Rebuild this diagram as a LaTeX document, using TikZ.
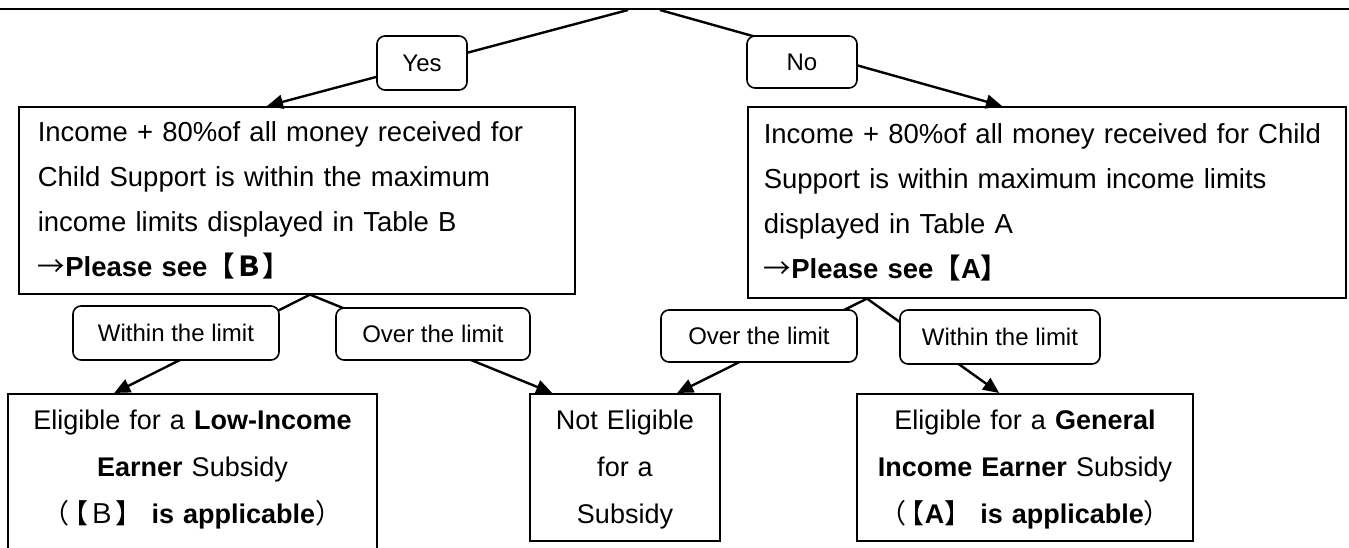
\documentclass[tikz,border=0pt]{standalone}
\usepackage{fontspec}
\setmainfont{Liberation Sans}
\newfontfamily\cjk{Noto Sans CJK JP}
\usetikzlibrary{arrows.meta,calc,positioning}

\begin{document}
\begin{tikzpicture}[x=1pt, y=-1pt,
    box/.style={draw, line width=1.6pt, rectangle, anchor=north west},
    bigtxt/.style={font=\fontsize{27.5}{45}\selectfont, align=left},
    smalltxt/.style={font=\fontsize{27}{47}\selectfont, align=center, anchor=north, inner xsep=10pt, inner ysep=3pt},
    tag/.style={draw, fill=white, line width=1.6pt, rounded corners=8pt, inner sep=0pt, font=\fontsize{24}{24}\selectfont},
    link/.style={line width=2.4pt, -{Triangle[length=16pt,width=14pt]}},
    stem/.style={line width=2.4pt}]
\useasboundingbox (0,0) rectangle (1349,548);

\node[box, anchor=south, minimum width=1440pt, minimum height=80pt] (quest) at (644,10) {};
\node[box, bigtxt, text width=518pt, inner xsep=19pt, inner ysep=3.5pt] (incB) at (18,106)
    {\strut Income + 80\%of all money received for\\
     \strut Child Support is within the maximum\\
     \strut income limits displayed in Table B\\
     \strut{\cjk →}\textbf{Please see{\cjk 【Ｂ】}}};
\node[box, bigtxt, text width=566pt, inner xsep=16pt, inner ysep=5.5pt] (incA) at (747,106)
    {\strut Income + 80\%of all money received for Child\\
     \strut Support is within maximum income limits\\
     \strut displayed in Table A\\
     \strut{\cjk →}\textbf{Please see{\cjk 【}A{\cjk 】}}};
\node[box, smalltxt, text width=349pt] (lowB) at (192.5,393)
    {\strut Eligible for a \textbf{Low-Income}\\
     \strut\textbf{Earner} Subsidy\\
     \strut{\cjk （}\hspace{-.3em}{\cjk 【Ｂ】}\textbf{ is applicable}{\cjk ）}\\
     \strut};
\node[box, smalltxt, text width=170pt] (neB) at (625,393)
    {\strut Not Eligible\\ \strut for a\\ \strut Subsidy};
\node[box, smalltxt, text width=316pt] (genB) at (1025,393)
    {\strut Eligible for a \textbf{General}\\
     \strut\textbf{Income Earner} Subsidy\\
     \strut{\cjk （}\hspace{-.3em}{\cjk 【}\textbf{A}{\cjk 】}\textbf{ is applicable}{\cjk ）}};

\coordinate (qY) at ($(quest.south)+(-16,0)$);
\coordinate (qN) at ($(quest.south)+(16,0)$);
\coordinate (footB) at ($(incB.south west)+(292,0)$);
\coordinate (footA) at ($(incA.south west)+(120,0)$);

\draw[link] (qY) -- ($(incB.north west)+(249,0)$);
\draw[link] (qN) -- ($(incA.north west)+(255,0)$);
\draw[link] (footB) -- ($(lowB.north west)+(107,0)$);
\draw[link] (footB) -- ($(neB.north west)+(23,0)$);
\draw[link] (footA) -- ($(neB.north west)+(148,0)$);
\draw[link] (footA) -- ($(genB.north west)+(143,0)$);

\node[tag, minimum width=90pt, minimum height=54pt] (yes) at (422,63) {Yes};
\node[tag, minimum width=110pt, minimum height=52pt] (no) at (802,62) {No};
\node[tag, minimum width=206pt, minimum height=54pt] (inB) at (176,333) {Within the limit};
\node[tag, minimum width=194pt, minimum height=52pt] (ovB) at (433,334) {Over the limit};
\node[tag, minimum width=196pt, minimum height=52pt] (ovA) at (759,336) {Over the limit};
\node[tag, minimum width=200pt, minimum height=54pt] (inA) at (1000,337) {Within the limit};
\end{tikzpicture}
\end{document}
